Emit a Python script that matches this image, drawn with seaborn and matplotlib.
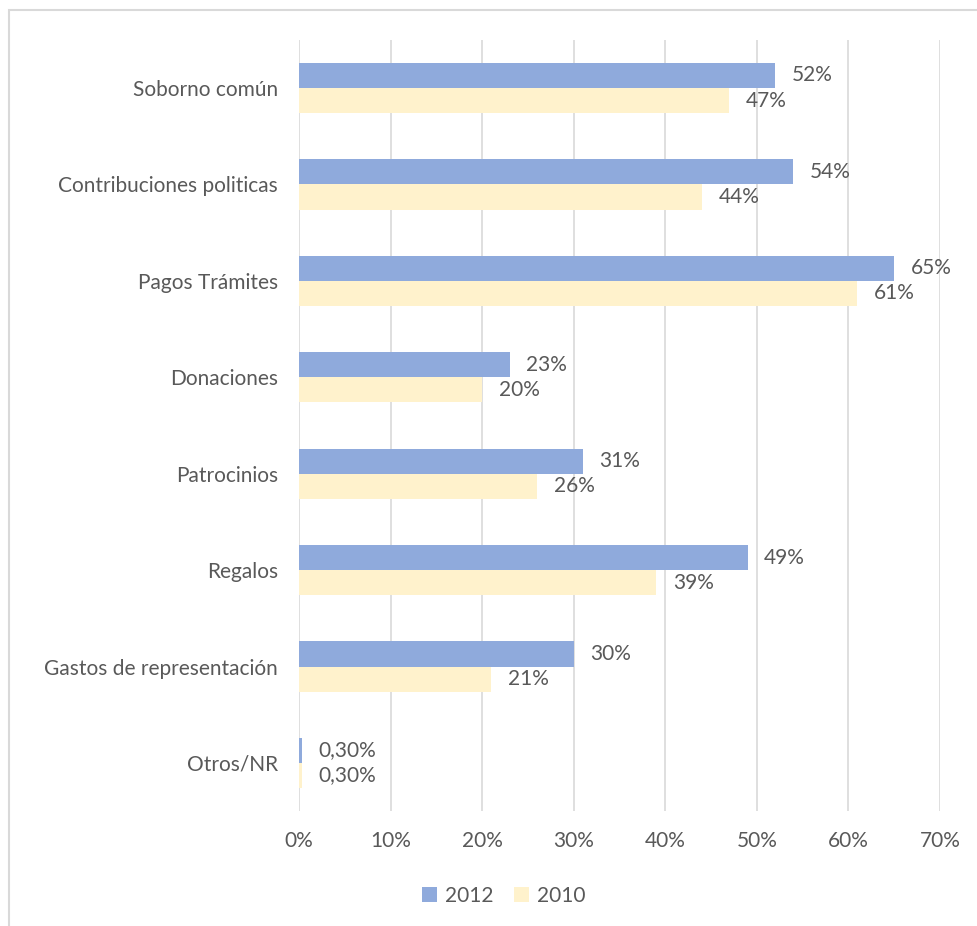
import matplotlib
matplotlib.use("Agg")
import matplotlib.pyplot as plt
import seaborn as sns
import pandas as pd
from matplotlib.patches import Rectangle

categories = ["Soborno común", "Contribuciones politicas", "Pagos Trámites", "Donaciones",
              "Patrocinios", "Regalos", "Gastos de representación", "Otros/NR"]
v2012 = [52, 54, 65, 23, 31, 49, 30, 0.3]
v2010 = [47, 44, 61, 20, 26, 39, 21, 0.3]
lab2012 = ["52%", "54%", "65%", "23%", "31%", "49%", "30%", "0,30%"]
lab2010 = ["47%", "44%", "61%", "20%", "26%", "39%", "21%", "0,30%"]
xticks = [0, 10, 20, 30, 40, 50, 60, 70]
xticklabels = ["0%", "10%", "20%", "30%", "40%", "50%", "60%", "70%"]
series = ["2012", "2010"]
colors = ["#8FAADC", "#FFF2CC"]

df = pd.DataFrame({
    "cat": categories * 2,
    "val": v2012 + v2010,
    "year": ["2012"] * len(categories) + ["2010"] * len(categories),
})

sns.set_theme(style="white")
plt.rcParams['font.family'] = ['Lato', 'DejaVu Sans']
txt = "#595959"
fs = 15

fig = plt.figure(figsize=(9.77, 9.26), dpi=100)
ax = fig.add_axes([0.306, 0.124, 0.656, 0.833])

sns.barplot(data=df, y="cat", x="val", hue="year", hue_order=series, order=categories,
            palette=colors, orient="h", width=0.52, ax=ax, saturation=1, legend=True,
            edgecolor="none")

ax.set_xlim(0, 70)
ax.set_ylim(7.5, -0.5)
ax.set_xticks(xticks)
ax.set_xticklabels(xticklabels)
ax.grid(axis="x", color="#D9D9D9", linewidth=1.2)
ax.set_axisbelow(True)
for s in ax.spines.values():
    s.set_visible(False)
ax.set_xlabel("")
ax.set_ylabel("")
ax.tick_params(axis="both", length=0, labelsize=fs, colors=txt)
ax.tick_params(axis="x", pad=14)
ax.tick_params(axis="y", pad=15)

for cont, labs in zip(ax.containers, [lab2012, lab2010]):
    ax.bar_label(cont, labels=labs, padding=12, fontsize=fs, color=txt)

handles, labels = ax.get_legend_handles_labels()
ax.legend(handles, labels, loc="center", bbox_to_anchor=(504 / 977, 1 - 896 / 926), bbox_transform=fig.transFigure,
          ncol=2, frameon=False, fontsize=fs, labelcolor=txt, handlelength=0.7, handleheight=0.7,
          columnspacing=1.0, handletextpad=0.4)

fig.patches.append(Rectangle((9 / 977, -0.1), 1.2, 1.1 - 10 / 926, transform=fig.transFigure,
                             fill=False, edgecolor="#D9D9D9", linewidth=1.5))

fig.savefig("out.png", dpi=100)
